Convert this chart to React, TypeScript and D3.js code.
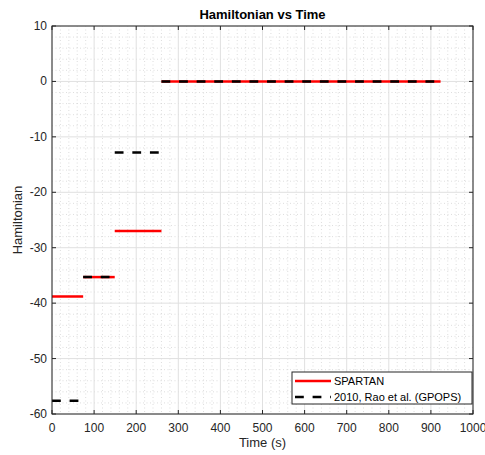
import React from "react";
import * as d3 from "d3";

const phaseTimes = [0, 74, 149, 260, 923];
const spartanH = [-38.8, -35.3, -27, 0];
const gpopsH = [-57.6, -35.3, -12.8, 0];
const xTicks = [0, 100, 200, 300, 400, 500, 600, 700, 800, 900, 1000];
const yTicks = [10, 0, -10, -20, -30, -40, -50, -60];
const seriesNames = ["SPARTAN", "2010, Rao et al. (GPOPS)"];

const W = 485, H = 455;
const L = 52, R = 473, T = 26, B = 414;
const FONT = "'Liberation Sans', Arial, Helvetica, sans-serif";
const AX = "#262626";

export default function App() {
  const x = d3.scaleLinear().domain([0, 1000]).range([L, R]);
  const y = d3.scaleLinear().domain([-60, 10]).range([B, T]);
  const line = d3.line<[number, number]>().x(d => x(d[0])).y(d => y(d[1]));
  const xMinor = d3.range(0, 1001, 20).filter(v => v % 100 !== 0);
  const yMinor = d3.range(-60, 11, 2).filter(v => v % 10 !== 0);
  const segs = (vals: number[]) =>
    vals.map((v, i) => [[phaseTimes[i], v], [phaseTimes[i + 1], v]] as [number, number][]);

  const lgX = 292, lgY = 372, lgW = 180, lgH = 32;

  return (
    <svg width={W} height={H} style={{ position: "absolute", left: 0, top: 0, background: "#fff" }} fontFamily={FONT}>
      <rect x={0} y={0} width={W} height={H} fill="#fff" />
      <rect x={L} y={T} width={R - L} height={B - T} fill="#fff" />
      {/* minor grid */}
      {xMinor.map(v => (
        <line key={"xm" + v} x1={x(v)} x2={x(v)} y1={T} y2={B} stroke="#c8c8c8" strokeWidth={0.6} strokeDasharray="1,2.5" />
      ))}
      {yMinor.map(v => (
        <line key={"ym" + v} x1={L} x2={R} y1={y(v)} y2={y(v)} stroke="#c8c8c8" strokeWidth={0.6} strokeDasharray="1,2.5" />
      ))}
      {/* major grid */}
      {xTicks.map(v => (
        <line key={"xg" + v} x1={x(v)} x2={x(v)} y1={T} y2={B} stroke="#e0e0e0" strokeWidth={1} />
      ))}
      {yTicks.map(v => (
        <line key={"yg" + v} x1={L} x2={R} y1={y(v)} y2={y(v)} stroke="#e0e0e0" strokeWidth={1} />
      ))}
      {/* data */}
      {segs(spartanH).map((s, i) => (
        <path key={"sp" + i} d={line(s) || ""} fill="none" stroke="#ff0000" strokeWidth={2.5} />
      ))}
      {segs(gpopsH).map((s, i) => (
        <path key={"gp" + i} d={line(s) || ""} fill="none" stroke="#000" strokeWidth={2.5} strokeDasharray="8.8,8.8" />
      ))}
      {/* box */}
      <rect x={L} y={T} width={R - L} height={B - T} fill="none" stroke={AX} strokeWidth={1} />
      {/* ticks */}
      {xTicks.map(v => (
        <g key={"xt" + v}>
          <line x1={x(v)} x2={x(v)} y1={B} y2={B - 4} stroke={AX} />
          <line x1={x(v)} x2={x(v)} y1={T} y2={T + 4} stroke={AX} />
          <text x={x(v)} y={432} textAnchor="middle" fontSize={12} fill={AX}>{v}</text>
        </g>
      ))}
      {yTicks.map(v => (
        <g key={"yt" + v}>
          <line x1={L} x2={L + 4} y1={y(v)} y2={y(v)} stroke={AX} />
          <line x1={R} x2={R - 4} y1={y(v)} y2={y(v)} stroke={AX} />
          <text x={47} y={y(v) + 4} textAnchor="end" fontSize={12} fill={AX}>{v}</text>
        </g>
      ))}
      {/* labels */}
      <text x={(L + R) / 2} y={19} textAnchor="middle" fontSize={13} fontWeight="bold" fill="#000">Hamiltonian vs Time</text>
      <text x={(L + R) / 2} y={447} textAnchor="middle" fontSize={13} fill={AX}>Time (s)</text>
      <text transform={`translate(22,${(T + B) / 2}) rotate(-90)`} textAnchor="middle" fontSize={13} fill={AX}>Hamiltonian</text>
      {/* legend */}
      <rect x={lgX} y={lgY} width={lgW} height={lgH} fill="#fff" stroke={AX} strokeWidth={1} />
      <line x1={295} x2={331} y1={381} y2={381} stroke="#ff0000" strokeWidth={2.5} />
      <line x1={295} x2={331} y1={397} y2={397} stroke="#000" strokeWidth={2.5} strokeDasharray="8.8,8.8" />
      <text x={334} y={385} fontSize={11} fill="#000">{seriesNames[0]}</text>
      <text x={334} y={401} fontSize={11} fill="#000">{seriesNames[1]}</text>
    </svg>
  );
}
